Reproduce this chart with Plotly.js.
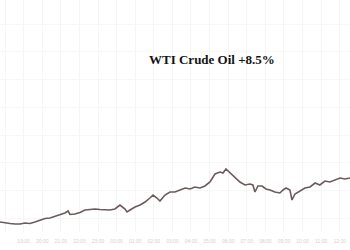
<!DOCTYPE html>
<html>
<head>
<meta charset="utf-8">
<script src="https://cdn.plot.ly/plotly-3.0.1.min.js"></script>
<style>html,body{margin:0;padding:0;background:#fff;}#chart{width:350px;height:250px;}</style>
</head>
<body>
<div id="chart"></div>
<script>
const hours = [0,0.27,0.54,0.81,1.08,1.34,1.61,1.88,2.15,2.42,2.69,2.96,3.23,3.49,3.66,3.76,4.03,4.30,4.57,4.84,5.11,5.38,5.65,5.91,6.18,6.45,6.72,6.83,6.99,7.26,7.53,7.80,8.06,8.23,8.44,8.60,8.87,9.14,9.41,9.68,9.95,10.22,10.48,10.75,11.02,11.29,11.56,11.83,11.99,12.15,12.37,12.63,12.90,13.17,13.44,13.60,13.71,13.87,14.09,14.30,14.52,14.78,15.05,15.22,15.38,15.59,15.70,15.86,16.13,16.40,16.67,16.94,17.20,17.47,17.74,18.01,18.28,18.55,18.82];
const price = [57.18,57.09,57.05,57.00,57.00,57.09,57.05,57.18,57.36,57.50,57.54,57.68,57.81,57.99,58.17,57.86,57.90,58.04,58.26,58.31,58.35,58.31,58.26,58.26,58.35,58.71,58.35,58.08,58.26,58.53,58.71,58.98,59.34,59.61,59.34,59.07,59.61,59.88,59.88,60.06,60.24,60.15,60.33,60.24,60.42,60.78,61.50,61.68,61.59,61.95,61.59,61.14,60.78,60.51,60.60,60.51,59.88,60.42,60.42,60.15,60.06,59.88,59.79,60.06,60.24,60.06,59.16,59.70,59.97,60.24,60.33,60.69,60.51,60.87,60.78,60.96,61.14,61.05,61.14];
const tickHours = [0.27,1.27,2.27,3.27,4.27,5.27,6.27,7.27,8.27,9.27,10.27,11.27,12.27,13.27,14.27,15.27,16.27,17.27,18.27];
const tickLabels = ["18:00","19:00","20:00","21:00","22:00","23:00","00:00","01:00","02:00","03:00","04:00","05:00","06:00","07:00","08:00","09:00","10:00","11:00","12:00"];
const titleText = "WTI Crude Oil +8.5%";

Plotly.newPlot('chart', [{
  x: hours, y: price, type: 'scatter', mode: 'lines',
  line: {color: '#6b5c5b', width: 1.6},
  hoverinfo: 'skip'
}], {
  width: 350, height: 250,
  margin: {l: 0, r: 0, t: 0, b: 18},
  paper_bgcolor: '#ffffff', plot_bgcolor: '#ffffff',
  showlegend: false,
  xaxis: {
    range: [0, 18.82], tickvals: tickHours, ticktext: tickLabels,
    showgrid: true, gridcolor: '#f5f5f5', gridwidth: 1,
    zeroline: false, showline: false, ticks: '', ticklabelstandoff: 5,
    tickfont: {family: 'Arial, Liberation Sans, sans-serif', size: 5, color: '#d2d2d2'}
  },
  yaxis: {
    range: [56.28, 77.16], dtick: 2.5,
    showgrid: true, gridcolor: '#f7f7f7', gridwidth: 1,
    zeroline: false, showline: false, showticklabels: false, ticks: ''
  },
  annotations: [{
    text: '<b>' + titleText + '</b>', xref: 'paper', yref: 'paper',
    x: 0.606, y: 0.745, xanchor: 'center', yanchor: 'middle', showarrow: false,
    font: {family: 'Liberation Serif, Times New Roman, serif', size: 13, color: '#141414'}
  }]
}, {displayModeBar: false, staticPlot: true});
</script>
</body>
</html>
